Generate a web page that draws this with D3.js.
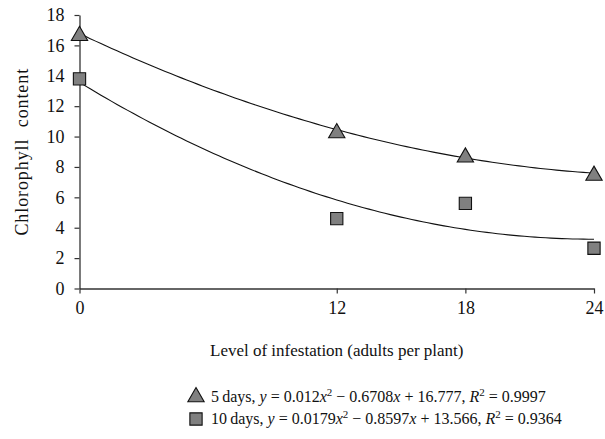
<!DOCTYPE html>
<html>
<head>
<meta charset="utf-8">
<script src="https://cdn.jsdelivr.net/npm/d3@7"></script>
<style>
  body { margin: 0; background: #fff; }
  svg { display: block; font-family: "Liberation Serif", "DejaVu Serif", serif; }
</style>
</head>
<body>
<div id="chart"></div>
<script>
// data
const levels = [0, 12, 18, 24];
const days5 = [16.7, 10.3, 8.7, 7.5];
const days10 = [13.8, 4.6, 5.6, 2.65];
// trendline coefficients as printed in the legend (a, b, c)
const fit5 = [0.012, -0.6708, 16.777];
const fit10 = [0.0179, -0.8597, 13.566];
const xTicks = [0, 12, 18, 24];
const yTicks = [0, 2, 4, 6, 8, 10, 12, 14, 16, 18];

const width = 605, height = 439;
const svg = d3.select("#chart").append("svg")
  .attr("width", width).attr("height", height);

const x = d3.scaleLinear().domain([0, 24]).range([79.5, 594]);
const y = d3.scaleLinear().domain([0, 18]).range([288.5, 15]);

// axes
const xAxis = svg.append("g")
  .attr("transform", `translate(0,${y(0)})`)
  .call(d3.axisBottom(x).tickValues(xTicks).tickSize(5).tickPadding(8).tickSizeOuter(0));
const yAxis = svg.append("g")
  .attr("transform", `translate(${x(0)},0)`)
  .call(d3.axisLeft(y).tickValues(yTicks).tickSize(5).tickPadding(10).tickSizeOuter(0));

[xAxis, yAxis].forEach(a => {
  a.select(".domain").attr("stroke", "#333").attr("stroke-width", 1.3);
  a.selectAll(".tick line").attr("stroke", "#333").attr("stroke-width", 1.2);
  a.selectAll("text").attr("fill", "#111").style("font-size", "18px")
    .style("font-family", "'Liberation Serif', serif");
});

// axis titles
svg.append("text")
  .attr("x", (x(0) + x(24)) / 2).attr("y", 356)
  .attr("text-anchor", "middle").style("font-size", "17px").attr("fill", "#111")
  .text("Level of infestation (adults per plant)");
svg.append("text")
  .attr("transform", `translate(28,${(y(0) + y(18)) / 2}) rotate(-90)`)
  .attr("text-anchor", "middle").style("font-size", "18px").attr("fill", "#111")
  .attr("letter-spacing", "0.9px").attr("word-spacing", "6px")
  .text("Chlorophyll content");

// trendlines from the printed coefficients
const poly = c => v => c[0] * v * v + c[1] * v + c[2];
const xs = d3.range(0, 24.01, 0.25);
const line = d3.line().x(d => x(d[0])).y(d => y(d[1]));
[fit5, fit10].forEach(c => {
  const f = poly(c);
  svg.append("path")
    .datum(xs.map(v => [v, f(v)]))
    .attr("fill", "none").attr("stroke", "#111").attr("stroke-width", 1.1)
    .attr("d", line);
});

// markers
const tri = d3.symbol().type(d3.symbolTriangle).size(115);
const sq = d3.symbol().type(d3.symbolSquare).size(150);

svg.append("g").selectAll("path")
  .data(levels.map((l, i) => [l, days10[i]]))
  .join("path")
  .attr("transform", d => `translate(${x(d[0])},${y(d[1])})`)
  .attr("d", sq)
  .attr("fill", "#808080").attr("stroke", "#111").attr("stroke-width", 1.1);

svg.append("g").selectAll("path")
  .data(levels.map((l, i) => [l, days5[i]]))
  .join("path")
  .attr("transform", d => `translate(${x(d[0])},${y(d[1]) + 1})`)
  .attr("d", tri)
  .attr("fill", "#808080").attr("stroke", "#111").attr("stroke-width", 1.1);

// legend
const legend = svg.append("g").attr("transform", "translate(196,0)");
legend.append("path").attr("transform", "translate(0,397)").attr("d", tri)
  .attr("fill", "#808080").attr("stroke", "#111").attr("stroke-width", 1.1);
legend.append("path").attr("transform", "translate(0,419)").attr("d", sq)
  .attr("fill", "#808080").attr("stroke", "#111").attr("stroke-width", 1.1);

function legendLine(yPos, label, c, r2) {
  const t = legend.append("text").attr("x", 15).attr("y", yPos)
    .style("font-size", "16px").attr("fill", "#111");
  t.append("tspan").text(label + ", ");
  t.append("tspan").attr("font-style", "italic").text("y");
  t.append("tspan").text(" = " + c[0] + "");
  t.append("tspan").attr("font-style", "italic").text("x");
  t.append("tspan").attr("dy", -6).style("font-size", "11px").text("2");
  t.append("tspan").attr("dy", 6).text(" \u2212 " + Math.abs(c[1]));
  t.append("tspan").attr("font-style", "italic").text("x");
  t.append("tspan").text(" + " + c[2] + ", ");
  t.append("tspan").attr("font-style", "italic").text("R");
  t.append("tspan").attr("dy", -6).style("font-size", "11px").text("2");
  t.append("tspan").attr("dy", 6).text(" = " + r2);
}
legendLine(402, "5\u2009days", fit5, "0.9997");
legendLine(424, "10\u2009days", fit10, "0.9364");
</script>
</body>
</html>
